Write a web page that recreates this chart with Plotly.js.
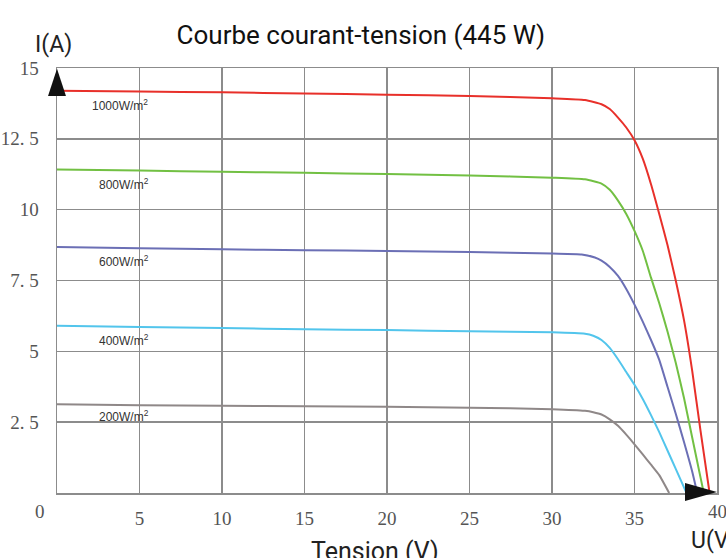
<!DOCTYPE html>
<html><head><meta charset="utf-8">
<script src="https://cdn.plot.ly/plotly-3.0.1.min.js"></script>
<style>html,body{margin:0;padding:0;background:#fff}#chart{width:726px;height:558px}</style>
</head><body><div id="chart"></div>
<script>
// Data (voltage V, current A)
const seriesNames = ["1000W/m<sup>2</sup>", "800W/m<sup>2</sup>", "600W/m<sup>2</sup>", "400W/m<sup>2</sup>", "200W/m<sup>2</sup>"];
const v1000 = [0, 5, 10, 15, 20, 25, 30, 32, 33, 33.5, 34, 34.5, 35, 35.5, 36, 36.5, 37, 37.5, 38, 38.5, 39, 39.55];
const i1000 = [14.2, 14.17, 14.14, 14.1, 14.06, 14.01, 13.93, 13.87, 13.72, 13.55, 13.25, 12.9, 12.45, 11.8, 10.9, 9.85, 8.75, 7.5, 6.1, 4.3, 2.2, 0];
const v800 = [0, 5, 10, 15, 20, 25, 30, 32, 33, 33.5, 34, 34.5, 35, 35.5, 36, 36.5, 37, 37.5, 38, 38.5, 39, 39.2];
const i800 = [11.42, 11.38, 11.34, 11.3, 11.26, 11.21, 11.13, 11.07, 10.92, 10.7, 10.32, 9.85, 9.25, 8.55, 7.6, 6.7, 5.7, 4.6, 3.35, 1.95, 0.55, 0];
const v600 = [0, 5, 10, 15, 20, 25, 30, 31.8, 32.6, 33, 33.5, 34, 34.5, 35, 35.5, 36, 36.5, 37, 37.5, 38, 38.5, 38.8];
const i600 = [8.68, 8.64, 8.6, 8.57, 8.54, 8.51, 8.45, 8.42, 8.31, 8.2, 7.98, 7.66, 7.2, 6.65, 6.05, 5.4, 4.7, 3.75, 2.8, 1.8, 0.75, 0];
const v400 = [0, 5, 10, 15, 20, 25, 30, 32, 32.5, 33, 33.5, 34, 34.5, 35, 35.5, 36, 36.5, 37, 37.5, 38.15];
const i400 = [5.9, 5.86, 5.82, 5.78, 5.75, 5.71, 5.67, 5.62, 5.55, 5.4, 5.12, 4.72, 4.27, 3.82, 3.32, 2.75, 2.15, 1.5, 0.85, 0];
const v200 = [0, 5, 10, 15, 20, 25, 30, 32, 32.5, 33, 33.5, 34, 34.5, 35, 35.5, 36, 36.5, 37.1];
const i200 = [3.13, 3.1, 3.08, 3.06, 3.04, 3.01, 2.96, 2.9, 2.85, 2.77, 2.6, 2.37, 2.06, 1.72, 1.36, 1.0, 0.63, 0];
const seriesColors = ["#e8302a", "#72c043", "#6b6fb5", "#52c5ec", "#8f8888"];
const labelV = [2.0, 2.4, 2.4, 2.4, 2.4];
const labelI = [13.7, 10.92, 8.2, 5.39, 2.71];
const xTickVals = [5, 10, 15, 20, 25, 30, 35, 40];
const xTickText = ["5", "10", "15", "20", "25", "30", "35", "40"];
const yTickVals = [2.5, 5, 7.5, 10, 12.5, 15];
const yTickText = ["2. 5", "5", "7. 5", "10", "12. 5", "15"];

const Vs = [v1000, v800, v600, v400, v200];
const Is = [i1000, i800, i600, i400, i200];
const traces = Vs.map((v, k) => ({
  x: v, y: Is[k], type: 'scatter', mode: 'lines', name: seriesNames[k],
  line: {color: seriesColors[k], width: 2, shape: 'spline', smoothing: 0.5},
  hoverinfo: 'skip', cliponaxis: false
}));

const serif = "Liberation Serif, DejaVu Serif, serif";
const sans = "Roboto, Noto Sans, sans-serif";
const gridC = '#8c8c8c';

const annotations = seriesNames.map((t, k) => ({
  x: labelV[k], y: labelI[k], xref: 'x', yref: 'y', text: t, showarrow: false,
  xanchor: 'left', yanchor: 'middle', font: {family: "Liberation Sans, Arial, sans-serif", size: 12, color: '#333'}
}));
annotations.push(
  {x: -0.005, y: 1.056, xref: 'paper', yref: 'paper', text: 'I(A)', showarrow: false, xanchor: 'center', yanchor: 'middle', font: {family: sans, size: 23, color: '#222'}},
  {x: -0.0258, y: -0.0424, xref: 'paper', yref: 'paper', text: '0', showarrow: false, xanchor: 'center', yanchor: 'middle', font: {family: serif, size: 19, color: '#555'}},
  {x: 0.482, y: -0.138, xref: 'paper', yref: 'paper', text: 'Tension (V)', showarrow: false, xanchor: 'center', yanchor: 'middle', font: {family: sans, size: 25, color: '#222'}},
  {x: 0.957, y: -0.111, xref: 'paper', yref: 'paper', text: 'U(V)', showarrow: false, xanchor: 'left', yanchor: 'middle', font: {family: sans, size: 23, color: '#222'}},
  {x: 1.0, y: -0.0424, xref: 'paper', yref: 'paper', text: '40', showarrow: false, xanchor: 'center', yanchor: 'middle', font: {family: serif, size: 19, color: '#555'}}
);

const layout = {
  width: 726, height: 558,
  margin: {l: 57, r: 9, t: 68, b: 65},
  paper_bgcolor: '#fff', plot_bgcolor: '#fff',
  showlegend: false,
  title: {text: 'Courbe courant-tension (445 W)', x: 0.497, xref: 'container', xanchor: 'center', y: 0.937, yref: 'container', yanchor: 'middle', font: {family: sans, size: 26, color: '#111'}},
  xaxis: {range: [0, 40], tickvals: xTickVals.slice(0, -1), ticktext: xTickText.slice(0, -1), showgrid: true, gridcolor: gridC, gridwidth: 1.5,
    showline: true, mirror: true, linecolor: gridC, linewidth: 1.5, zeroline: false,
    ticks: 'outside', ticklen: 8, tickcolor: 'rgba(0,0,0,0)', tickfont: {family: serif, size: 19, color: '#555'}, fixedrange: true},
  yaxis: {range: [0, 15], tickvals: yTickVals, ticktext: yTickText, showgrid: true, gridcolor: gridC, gridwidth: 1.5,
    showline: true, mirror: true, linecolor: gridC, linewidth: 1.5, zeroline: false,
    ticks: 'outside', ticklen: 13, tickcolor: 'rgba(0,0,0,0)', tickfont: {family: serif, size: 19, color: '#555'}, fixedrange: true},
  annotations: annotations,
  shapes: [
    {type: 'path', xref: 'paper', yref: 'paper', path: 'M 0 0.998 L -0.0136 0.934 L 0.0136 0.934 Z', fillcolor: '#111', line: {width: 0}, layer: 'above'},
    {type: 'path', xref: 'paper', yref: 'paper', path: 'M 0.9515 0.0235 L 0.9515 -0.0188 L 1.0 0.0024 Z', fillcolor: '#111', line: {width: 0}, layer: 'above'}
  ]
};

Plotly.newPlot('chart', traces, layout, {displayModeBar: false, staticPlot: true});
</script>
</body></html>
